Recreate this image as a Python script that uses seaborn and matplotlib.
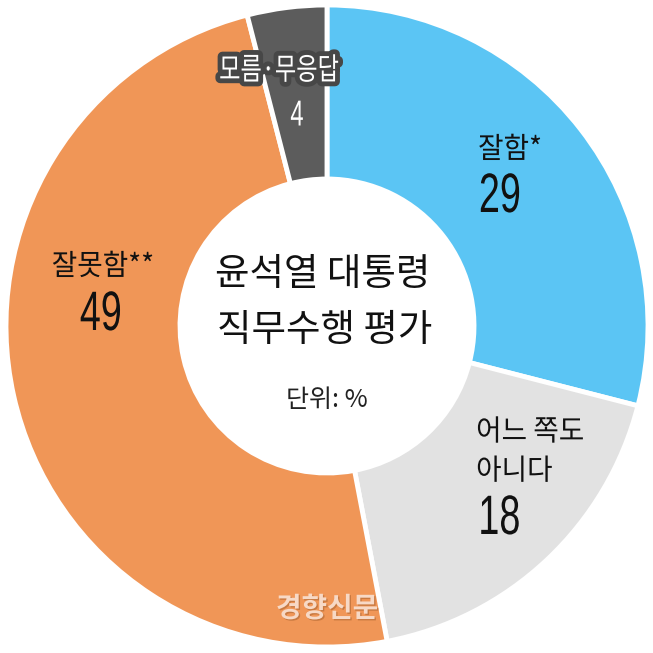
import matplotlib
matplotlib.use("Agg")
import matplotlib.pyplot as plt
import matplotlib.patheffects as pe
from matplotlib.transforms import Affine2D
import seaborn as sns

sns.set_theme(style="white")
plt.rcParams['font.family'] = ['Noto Sans CJK KR', 'DejaVu Sans']

categories = ["잘함*", "어느 쪽도\n아니다", "잘못함**", "모름·무응답"]
values = [29, 18, 49, 4]
colors = ["#5bc5f4", "#e2e2e2", "#f09657", "#5c5c5c"]
title_lines = ["윤석열 대통령", "직무수행 평가"]
unit_text = "단위: %"
source_text = "경향신문"

W = H = 653
fig = plt.figure(figsize=(W / 100, H / 100), dpi=100)
ax = fig.add_axes([0, 0, 1, 1])
R = 321.0
cx, cy = 327.0, 326.0

wedges, _ = ax.pie(values, colors=sns.color_palette(colors), startangle=90, counterclock=False,
                   radius=1.0, wedgeprops=dict(width=1 - 147 / R, edgecolor="white", linewidth=3.5))
ax.set_xlim(-cx / R, (W - cx) / R)
ax.set_ylim(-(H - cy) / R, cy / R)
ax.set_aspect("equal")
ax.axis("off")


class Condense(pe.AbstractPathEffect):
    """Horizontally narrows a text path about an anchor (left or center)."""
    def __init__(self, sx=0.8, anchor="center"):
        super().__init__()
        self.sx = sx
        self.anchor = anchor

    def draw_path(self, renderer, gc, tpath, affine, rgbFace=None):
        ext = tpath.get_extents(affine)
        x0 = ext.x0 if self.anchor == "left" else (ext.x0 + ext.x1) / 2
        new = affine + Affine2D().translate(-x0, 0).scale(self.sx, 1).translate(x0, 0)
        renderer.draw_path(gc, tpath, new, rgbFace)


class CondenseStroke(pe.AbstractPathEffect):
    def __init__(self, sx=0.85, linewidth=6, foreground="#4a4a4a"):
        super().__init__()
        self.sx = sx
        self.lw = linewidth
        self.fg = foreground

    def draw_path(self, renderer, gc, tpath, affine, rgbFace=None):
        ext = tpath.get_extents(affine)
        x0 = (ext.x0 + ext.x1) / 2
        new = affine + Affine2D().translate(-x0, 0).scale(self.sx, 1).translate(x0, 0)
        gc0 = renderer.new_gc()
        gc0.copy_properties(gc)
        gc0.set_linewidth(self.lw)
        gc0.set_foreground(self.fg)
        gc0.set_joinstyle("round")
        renderer.draw_path(gc0, tpath, new, None)
        gc0.restore()
        renderer.draw_path(gc, tpath, new, rgbFace)


def P(px, py):
    return (px - cx) / R, (cy - py) / R


dark = "#111111"
numfam = ['Liberation Sans', 'DejaVu Sans']
numfx = [Condense(0.68, "left")]
numfx_c = [Condense(0.68, "center")]

# 잘함
ax.text(*P(478, 150), categories[0], fontsize=21, ha="left", va="center", color=dark,
        path_effects=[Condense(0.95, "left")])
ax.text(*P(478, 198), str(values[0]), fontsize=40, ha="left", va="center", color=dark,
        family=numfam, path_effects=numfx)
# 어느 쪽도 아니다
ax.text(*P(476, 452), categories[1], fontsize=21, ha="left", va="center", color=dark, linespacing=1.4,
        path_effects=[Condense(0.95, "left")])
ax.text(*P(477, 520), str(values[1]), fontsize=40, ha="left", va="center", color=dark,
        family=numfam, path_effects=numfx)
# 잘못함
ax.text(*P(103, 267), categories[2], fontsize=21, ha="center", va="center", color=dark,
        path_effects=[Condense(0.95, "center")])
ax.text(*P(101, 316), str(values[2]), fontsize=40, ha="center", va="center", color=dark,
        family=numfam, path_effects=numfx_c)
# 모름·무응답
ax.text(*P(279, 71), categories[3], fontsize=22, ha="center", va="center", color="white",
        weight="medium", path_effects=[CondenseStroke(0.76, 7, "#474747")])
ax.text(*P(297, 116), str(values[3]), fontsize=26, ha="center", va="center", color="white",
        family=numfam, path_effects=[Condense(0.66, "center")])

# center
ax.text(*P(323, 275), title_lines[0], fontsize=27, ha="center", va="center", color=dark)
ax.text(*P(325, 331), title_lines[1], fontsize=27, ha="center", va="center", color=dark)
ax.text(*P(327, 400), unit_text, fontsize=18, ha="center", va="center", color="#222222")

ax.text(*P(327, 609), source_text, fontsize=20, ha="center", va="center", color="#f7d9c6", weight="bold",
        path_effects=[pe.withSimplePatchShadow(offset=(1, -1), shadow_rgbFace="#a8622f", alpha=0.55)])

fig.savefig("out.png", dpi=100)
